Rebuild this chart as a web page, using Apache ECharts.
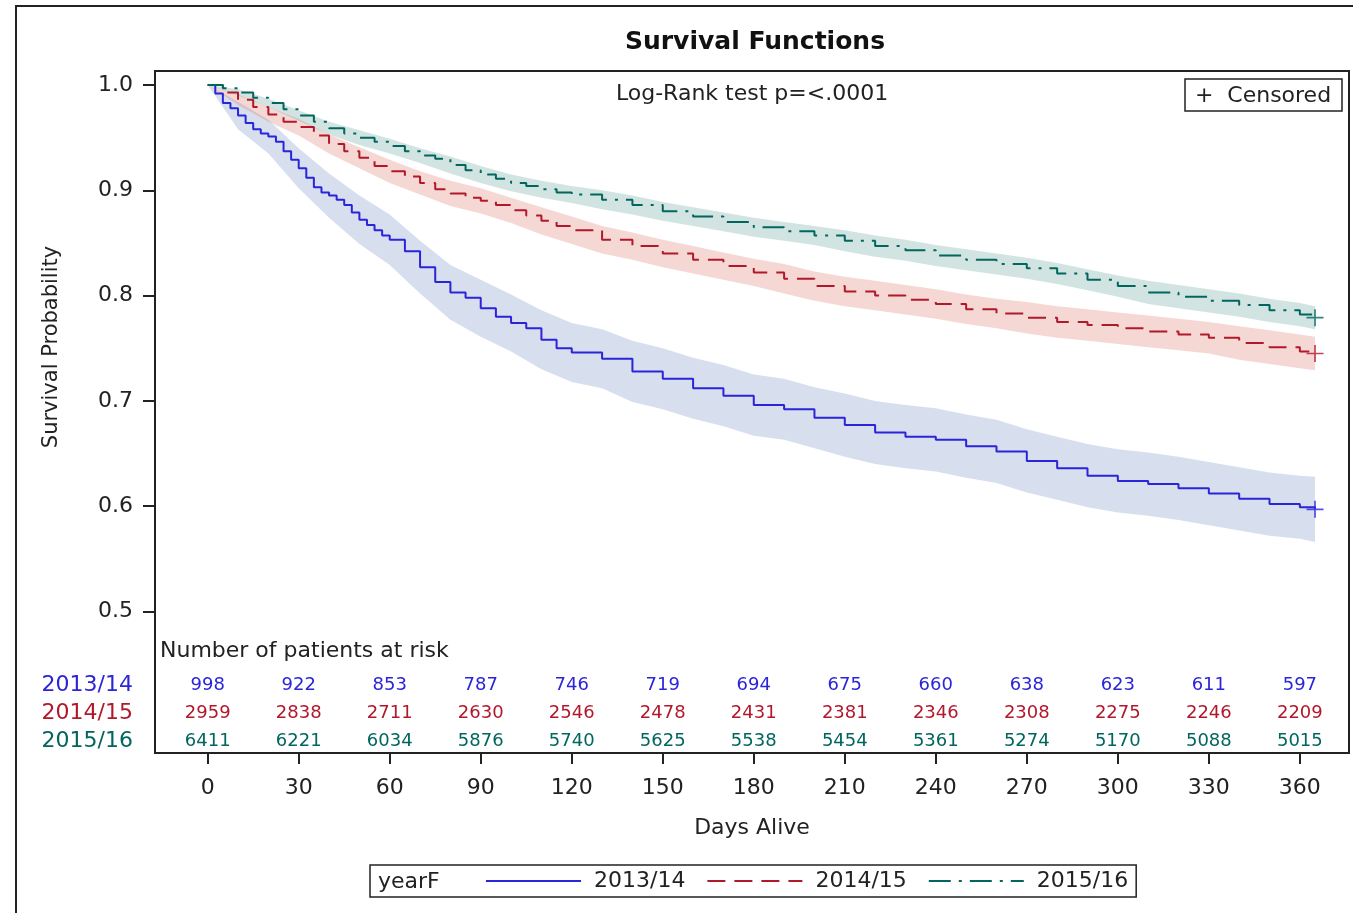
<!DOCTYPE html>
<html>
<head>
<meta charset="utf-8">
<script src="https://cdn.jsdelivr.net/npm/echarts@6/dist/echarts.min.js"></script>
<style>html,body{margin:0;padding:0;background:#fff}#c{width:1353px;height:913px}</style>
</head>
<body>
<div id="c"></div>
<script>
// ---------- data ----------
const groups = ['2013/14', '2014/15', '2015/16'];
const days1314 = [0,2.5,5,7.5,10,12.5,15,17.5,20,22.5,25,27.5,30,32.5,35,37.5,40,42.5,45,47.5,50,52.5,55,57.5,60,
  65,70,75,80,85,90,95,100,105,110,115,120,
  130,140,150,160,170,180,190,200,210,220,230,240,250,260,270,280,290,300,310,320,330,340,350,360,365];
const surv1314 = [1.000,0.992,0.983,0.978,0.971,0.964,0.958,0.954,0.951,0.946,0.937,0.929,0.921,0.912,0.903,0.898,0.895,0.891,0.886,0.879,0.872,0.867,0.862,0.857,0.853,
  0.842,0.827,0.813,0.803,0.798,0.788,0.780,0.774,0.769,0.758,0.750,0.746,
  0.740,0.728,0.721,0.712,0.705,0.696,0.692,0.684,0.677,0.670,0.666,0.663,0.657,0.652,0.643,0.636,0.629,0.624,0.621,0.617,0.612,0.607,0.602,0.599,0.597];
const days = [0,5,10,15,20,25,30,35,40,45,50,55,60,65,70,75,80,85,90,95,100,105,110,115,120,
  130,140,150,160,170,180,190,200,210,220,230,240,250,260,270,280,290,300,310,320,330,340,350,360,365];
const surv1415 = [1.000,0.993,0.986,0.979,0.972,0.965,0.960,0.952,0.944,0.937,0.931,0.923,0.918,0.913,0.907,0.901,0.897,0.893,0.890,0.886,0.881,0.876,0.871,0.866,0.862,
  0.853,0.847,0.840,0.834,0.828,0.822,0.816,0.809,0.804,0.800,0.796,0.792,0.787,0.783,0.779,0.775,0.772,0.769,0.766,0.763,0.760,0.755,0.751,0.747,0.745];
const surv1516 = [1.000,0.997,0.993,0.988,0.983,0.977,0.971,0.965,0.959,0.954,0.950,0.946,0.942,0.937,0.933,0.930,0.924,0.919,0.915,0.911,0.907,0.904,0.901,0.898,0.896,
  0.891,0.886,0.880,0.875,0.870,0.865,0.861,0.857,0.852,0.847,0.843,0.838,0.834,0.830,0.826,0.821,0.815,0.809,0.803,0.799,0.795,0.791,0.786,0.782,0.779];

const bandDays = [0,10,20,30,40,50,60,70,80,90,100,110,120,130,140,150,160,170,180,190,200,210,220,230,240,250,260,270,280,290,300,310,320,330,340,350,360,365];
const upper1314 = [1.000,0.984,0.967,0.940,0.916,0.895,0.877,0.852,0.829,0.815,0.801,0.786,0.774,0.768,0.757,0.750,0.741,0.734,0.725,0.721,0.713,0.707,0.700,0.696,0.693,0.687,0.682,0.673,0.666,0.659,0.654,0.651,0.647,0.642,0.637,0.632,0.629,0.628];
const lower1314 = [1.000,0.958,0.935,0.902,0.874,0.849,0.829,0.802,0.777,0.761,0.747,0.730,0.718,0.712,0.699,0.692,0.683,0.676,0.667,0.663,0.655,0.647,0.640,0.636,0.633,0.627,0.622,0.613,0.606,0.599,0.594,0.591,0.587,0.582,0.577,0.572,0.569,0.566];
const upper1415 = [1.000,0.991,0.979,0.968,0.953,0.941,0.929,0.918,0.909,0.902,0.893,0.884,0.875,0.866,0.860,0.853,0.847,0.841,0.835,0.830,0.823,0.818,0.814,0.810,0.806,0.801,0.797,0.794,0.790,0.787,0.784,0.781,0.778,0.775,0.771,0.767,0.763,0.761];
const lower1415 = [1.000,0.981,0.965,0.952,0.935,0.921,0.907,0.896,0.885,0.878,0.869,0.858,0.849,0.840,0.834,0.827,0.821,0.815,0.809,0.802,0.795,0.790,0.786,0.782,0.778,0.773,0.769,0.764,0.760,0.757,0.754,0.751,0.748,0.745,0.739,0.735,0.731,0.729];
const upper1516 = [1.000,0.996,0.987,0.976,0.965,0.957,0.949,0.940,0.932,0.923,0.915,0.909,0.904,0.900,0.895,0.889,0.884,0.879,0.874,0.870,0.866,0.862,0.857,0.853,0.848,0.844,0.840,0.836,0.831,0.825,0.819,0.814,0.810,0.806,0.802,0.797,0.793,0.790];
const lower1516 = [1.000,0.990,0.979,0.966,0.953,0.943,0.935,0.926,0.916,0.907,0.899,0.893,0.888,0.882,0.877,0.871,0.866,0.861,0.856,0.852,0.848,0.842,0.837,0.833,0.828,0.824,0.820,0.816,0.811,0.805,0.799,0.792,0.788,0.784,0.780,0.775,0.771,0.768];

const riskDays = [0,30,60,90,120,150,180,210,240,270,300,330,360];
const risk1314 = [998,922,853,787,746,719,694,675,660,638,623,611,597];
const risk1415 = [2959,2838,2711,2630,2546,2478,2431,2381,2346,2308,2275,2246,2209];
const risk1516 = [6411,6221,6034,5876,5740,5625,5538,5454,5361,5274,5170,5088,5015];

const xTicks = [0,30,60,90,120,150,180,210,240,270,300,330,360];
const yTicks = [0.5,0.6,0.7,0.8,0.9,1.0];

// ---------- styles ----------
const FONT = '"DejaVu Sans", sans-serif';
const TXT = '#222';
const lineColors = ['#2A25D9', '#B2182B', '#01665E'];
const bandColors = ['rgba(124,149,202,0.30)', 'rgba(222,126,111,0.30)', 'rgba(102,165,160,0.30)'];
const dashTypes = ['solid', [18, 9], [22, 8, 3, 8]];
const rowLevels = [0.4302, 0.4036, 0.3770]; // vertical placement of at-risk rows (axis units)

const dayLists = [days1314, days, days];
const survs = [surv1314, surv1415, surv1516];
const uppers = [upper1314, upper1415, upper1516];
const lowers = [lower1314, lower1415, lower1516];
const risks = [risk1314, risk1415, risk1516];

const series = [];
groups.forEach((g, k) => {
  series.push({
    name: 'band ' + g, type: 'custom', clip: true, silent: true, z: 1,
    data: [[0, 1]],
    renderItem: (params, api) => {
      const pts = [];
      for (let i = 0; i < bandDays.length; i++) pts.push(api.coord([bandDays[i], uppers[k][i]]));
      for (let i = bandDays.length - 1; i >= 0; i--) pts.push(api.coord([bandDays[i], lowers[k][i]]));
      return { type: 'polygon', shape: { points: pts }, style: { fill: bandColors[k] } };
    }
  });
});
groups.forEach((g, k) => {
  series.push({
    name: g, type: 'line', step: 'end', symbol: 'none', z: 3,
    data: dayLists[k].map((d, i) => [d, survs[k][i]]),
    lineStyle: { color: lineColors[k], width: 2, type: dashTypes[k] },
    itemStyle: { color: lineColors[k] }
  });
});
groups.forEach((g, k) => {
  const dl = dayLists[k];
  series.push({
    name: 'cens ' + g, type: 'scatter', z: 4,
    symbol: 'path://M9,0h2v9h9v2h-9v9h-2v-9h-9v-2h9z', symbolSize: 17,
    itemStyle: { color: lineColors[k] },
    data: [[dl[dl.length - 1], survs[k][survs[k].length - 1]]]
  });
});
groups.forEach((g, k) => {
  series.push({
    name: 'risk ' + g, type: 'custom', silent: true, z: 5,
    data: riskDays.map((d, i) => [d, risks[k][i]]),
    renderItem: (params, api) => {
      const p = api.coord([api.value(0), rowLevels[k]]);
      return { type: 'text', x: p[0], y: p[1],
        style: { text: String(api.value(1)), fill: lineColors[k], font: '18px ' + FONT, textAlign: 'center', textVerticalAlign: 'middle' } };
    }
  });
});

const graphic = [
  { type: 'rect', shape: { x: 16, y: 6, width: 1500, height: 1000 }, style: { fill: 'none', stroke: '#222', lineWidth: 2 }, silent: true },
  { type: 'text', x: 755, y: 42, style: { text: 'Survival Functions', font: 'bold 25px ' + FONT, fill: '#111', textAlign: 'center', textVerticalAlign: 'middle' } },
  { type: 'text', x: 752, y: 94, style: { text: 'Log-Rank test p=<.0001', font: '22px ' + FONT, fill: TXT, textAlign: 'center', textVerticalAlign: 'middle' } },
  { type: 'rect', shape: { x: 1185, y: 79, width: 157, height: 32 }, style: { fill: '#fff', stroke: '#222', lineWidth: 1.5 }, z: 10 },
  { type: 'text', x: 1263, y: 96, z: 11, style: { text: '+  Censored', font: '22px ' + FONT, fill: TXT, textAlign: 'center', textVerticalAlign: 'middle' } },
  { type: 'text', x: 160, y: 651, style: { text: 'Number of patients at risk', font: '22px ' + FONT, fill: TXT, textAlign: 'left', textVerticalAlign: 'middle' } },
  { type: 'text', x: 52, y: 347, rotation: Math.PI / 2, style: { text: 'Survival Probability', font: '21px ' + FONT, fill: TXT, textAlign: 'center', textVerticalAlign: 'middle' } },
  { type: 'text', x: 752, y: 828, style: { text: 'Days Alive', font: '22px ' + FONT, fill: TXT, textAlign: 'center', textVerticalAlign: 'middle' } },
  { type: 'text', x: 378, y: 882, z: 20, style: { text: 'yearF', font: '22px ' + FONT, fill: TXT, textAlign: 'left', textVerticalAlign: 'middle' } }
];
groups.forEach((g, k) => {
  graphic.push({ type: 'text', x: 133, y: 685 + 28 * k, style: { text: g, font: '22px ' + FONT, fill: lineColors[k], textAlign: 'right', textVerticalAlign: 'middle' } });
});

const chart = echarts.init(document.getElementById('c'), null, { renderer: 'canvas' });
chart.setOption({
  backgroundColor: '#fff',
  animation: false,
  grid: { left: 155, top: 71, right: 4, bottom: 160, show: true, borderColor: '#222', borderWidth: 2, backgroundColor: 'transparent' },
  xAxis: {
    type: 'value', min: -17.37, max: 376.2,
    axisLine: { show: false, onZero: false },
    splitLine: { show: false },
    axisTick: { show: true, length: 11, customValues: xTicks, lineStyle: { color: '#222', width: 2 } },
    axisLabel: { customValues: xTicks, margin: 24, fontSize: 22, fontFamily: FONT, color: TXT }
  },
  yAxis: {
    type: 'value', min: 0.3656, max: 1.0133,
    axisLine: { show: false, onZero: false },
    splitLine: { show: false },
    axisTick: { show: true, length: 12, customValues: yTicks, lineStyle: { color: '#222', width: 2 } },
    axisLabel: { customValues: yTicks, margin: 22, fontSize: 22, fontFamily: FONT, color: TXT, formatter: v => v.toFixed(1) }
  },
  legend: {
    data: groups, left: 370, top: 865, orient: 'horizontal',
    padding: [5, 8, 5, 115], borderColor: '#222', borderWidth: 1.5,
    itemWidth: 95, itemHeight: 14, itemGap: 21,
    itemStyle: { opacity: 0, color: 'rgba(0,0,0,0)', borderWidth: 0 },
    textStyle: { fontSize: 22, fontFamily: FONT, color: TXT, padding: [0, 0, 0, 8] }
  },
  graphic: graphic,
  series: series
});
</script>
</body>
</html>
